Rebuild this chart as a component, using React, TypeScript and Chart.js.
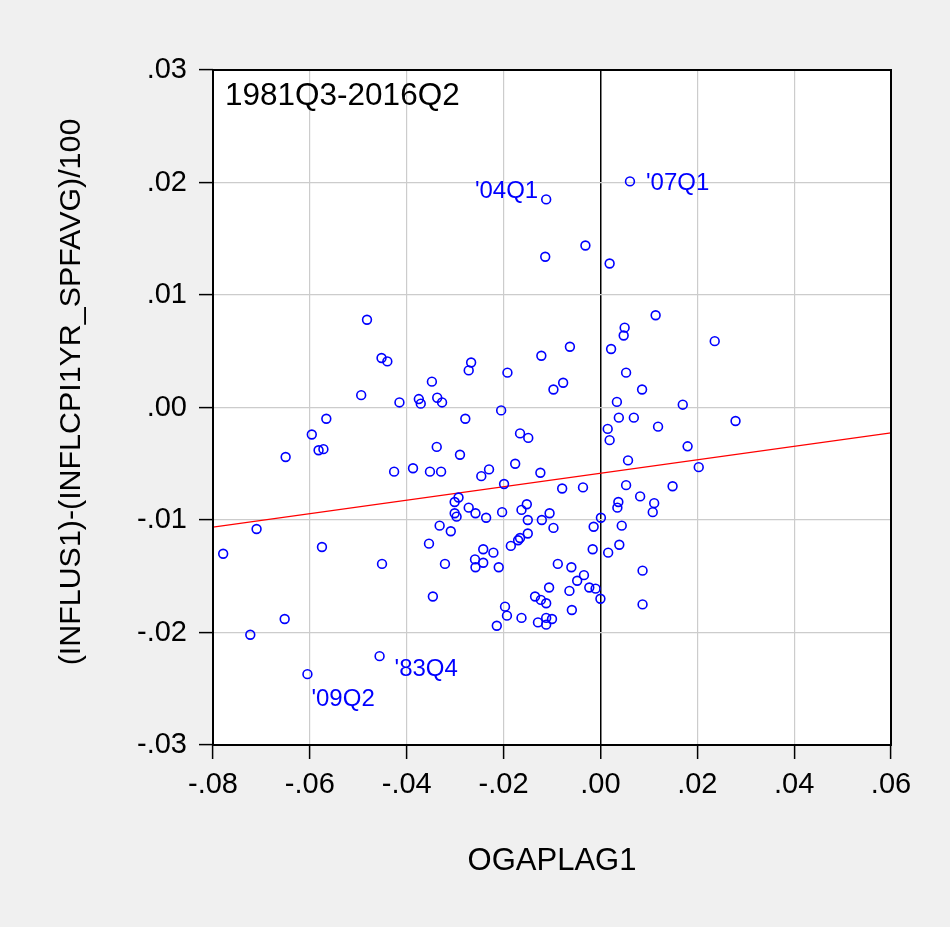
import React, { useEffect, useRef } from "react";
import { Chart, registerables } from "chart.js";

Chart.register(...registerables);

// OGAPLAG1 (x) values
const ogapLag1: number[] = [
  -0.0482, -0.0452, -0.044, -0.0348, -0.0494, -0.0415, -0.0375, -0.0371, -0.0337, -0.0327,
  0.0061, -0.0112, -0.0031, -0.0114, 0.0019, 0.0114, 0.005, 0.0048, 0.0022, -0.0063,
  -0.0122, -0.0267, -0.0272, -0.0192, 0.0053, -0.0077, -0.0097, 0.0086, 0.0034, 0.017,
  -0.0205, 0.0236, 0.0279, 0.018, 0.0203, -0.0279, -0.0166, -0.0149, -0.0338, -0.029,
  -0.0329, -0.023, -0.0246, -0.0176, -0.0124, -0.0199, -0.0079, -0.0036, -0.0293, -0.0301,
  -0.0272, -0.0301, -0.0297, -0.0258, -0.0236, -0.0203, -0.0152, -0.0163, -0.015, -0.0121,
  -0.0105, -0.0097, 0.0001, -0.0014, -0.0016, -0.015, -0.0166, -0.017, -0.0185, -0.0332,
  -0.0309, -0.0242, -0.0221, -0.0259, -0.0258, -0.0242, -0.021, -0.0321, -0.0088, -0.006,
  -0.0034, -0.0048, -0.0106, -0.0064, -0.0023, -0.001, 0.0, -0.0135, -0.0123, -0.0112,
  -0.0197, -0.0193, -0.0163, -0.0059, -0.0129, -0.0112, -0.01, -0.0112, -0.0214, 0.0038,
  0.0069, 0.0119, 0.0015, 0.0019, 0.0057, 0.0053, 0.0149, 0.0082, 0.0111, 0.0108,
  0.0037, 0.0035, 0.0044, 0.0039, 0.0016, 0.0087, 0.0087, -0.0566, -0.0596, -0.0582,
  -0.0572, -0.065, -0.0426, -0.0387, -0.0352, -0.071, -0.0779, -0.0575, -0.0451, -0.0354,
  -0.0346, -0.0652, -0.0723, -0.0456, -0.0605,
];

// (INFLUS1)-(INFLCPI1YR_SPFAVG)/100 (y) values
const inflGap: number[] = [
  0.0078, 0.0044, 0.0041, 0.0023, 0.0011, 0.00045, 0.00075, 0.00034, 0.00087, 0.00045,
  0.0201, 0.0185, 0.0144, 0.0134, 0.0128, 0.0082, 0.0071, 0.0064, 0.0052, 0.0054,
  0.0046, 0.004, 0.0033, 0.0031, 0.0031, 0.0022, 0.0016, 0.0016, 0.0005, 0.00025,
  -0.00026, 0.0059, -0.0012, -0.00345, -0.0053, -0.001, -0.0023, -0.0027, -0.0035, -0.0042,
  -0.0057, -0.0055, -0.0061, -0.005, -0.0058, -0.0068, -0.0072, -0.0071, -0.008, -0.0084,
  -0.0089, -0.0094, -0.0097, -0.0094, -0.0098, -0.0093, -0.0086, -0.0091, -0.01, -0.01,
  -0.0094, -0.0107, -0.0098, -0.0106, -0.0126, -0.0112, -0.0116, -0.0118, -0.0123, -0.0105,
  -0.011, -0.0126, -0.0129, -0.0135, -0.0142, -0.0138, -0.0142, -0.0139, -0.0139, -0.0142,
  -0.0149, -0.0154, -0.016, -0.0163, -0.016, -0.0161, -0.017, -0.0168, -0.0171, -0.0174,
  -0.0177, -0.0185, -0.0187, -0.018, -0.0191, -0.0187, -0.0188, -0.0193, -0.0194, -0.0009,
  -0.0009, -0.0017, -0.0019, -0.0029, -0.0047, -0.0069, -0.007, -0.0079, -0.0085, -0.0093,
  -0.0084, -0.0089, -0.0105, -0.0122, -0.0129, -0.0145, -0.0175, -0.001, -0.0024, -0.0038,
  -0.0037, -0.0044, -0.0057, -0.0054, -0.0057, -0.0108, -0.013, -0.0124, -0.0139, -0.0121,
  -0.0168, -0.0188, -0.0202, -0.0221, -0.0237,
];

// Fitted regression line end points
const fitX: number[] = [-0.08, 0.06];
const fitY: number[] = [-0.01063, -0.00226];

const xTicks: number[] = [-0.08, -0.06, -0.04, -0.02, 0.0, 0.02, 0.04, 0.06];
const yTicks: number[] = [-0.03, -0.02, -0.01, 0.0, 0.01, 0.02, 0.03];

const sampleText = "1981Q3-2016Q2";
const xTitle = "OGAPLAG1";
const yTitle = "(INFLUS1)-(INFLCPI1YR_SPFAVG)/100";

const pointLabels: string[] = ["'04Q1", "'07Q1", "'83Q4", "'09Q2"];
const pointLabelIdx: number[] = [11, 10, 133, 134];

const FONT = "'Liberation Sans', Arial, Helvetica, sans-serif";

const fmt = (v: number) => {
  if (Math.abs(v) < 1e-9) return ".00";
  return v.toFixed(2).replace("0.", ".");
};

export default function App() {
  const ref = useRef<HTMLCanvasElement>(null);

  useEffect(() => {
    if (!ref.current) return;

    // label placement (pixel offsets from the labelled point): [dx, dy, align]
    const labelPlacement: [number, number, CanvasTextAlign][] = [
      [-8, -8, "right"],
      [16, 2, "left"],
      [15, 13, "left"],
      [4, 25, "left"],
    ];

    const decor = {
      id: "decor",
      beforeDraw(chart: any) {
        const { ctx, chartArea: a } = chart;
        ctx.save();
        ctx.fillStyle = "#f0f0f0";
        ctx.fillRect(0, 0, chart.width, chart.height);
        ctx.fillStyle = "#ffffff";
        ctx.fillRect(a.left, a.top, a.right - a.left, a.bottom - a.top);
        ctx.restore();
      },
      afterDraw(chart: any) {
        const { ctx, chartArea: a, scales } = chart;
        ctx.save();
        // frame
        ctx.strokeStyle = "#000000";
        ctx.lineWidth = 2;
        ctx.strokeRect(a.left, a.top, a.right - a.left, a.bottom - a.top);

        // sample text
        ctx.fillStyle = "#000000";
        ctx.font = `31.5px ${FONT}`;
        ctx.textAlign = "left";
        ctx.textBaseline = "middle";
        ctx.fillText(sampleText, a.left + 12, a.top + 26);

        // point labels
        ctx.fillStyle = "#0000ff";
        ctx.font = `24px ${FONT}`;
        pointLabels.forEach((t, i) => {
          const idx = pointLabelIdx[i];
          const px = scales.x.getPixelForValue(ogapLag1[idx]);
          const py = scales.y.getPixelForValue(inflGap[idx]);
          const [dx, dy, al] = labelPlacement[i];
          ctx.textAlign = al;
          ctx.fillText(t, px + dx, py + dy);
        });

        // y axis title
        ctx.fillStyle = "#000000";
        ctx.font = `30.4px ${FONT}`;
        ctx.translate(72, 392);
        ctx.rotate(-Math.PI / 2);
        ctx.textAlign = "center";
        ctx.textBaseline = "middle";
        ctx.fillText(yTitle, 0, 0);
        ctx.restore();
      },
    };

    const chart = new Chart(ref.current, {
      type: "scatter",
      data: {
        datasets: [
          {
            label: "points",
            data: ogapLag1.map((x, i) => ({ x, y: inflGap[i] })),
            pointStyle: "circle",
            pointRadius: 4.4,
            pointBorderWidth: 1.6,
            borderColor: "#0000ff",
            backgroundColor: "rgba(0,0,0,0)",
            order: 1,
          },
          {
            type: "line",
            label: "fit",
            data: fitX.map((x, i) => ({ x, y: fitY[i] })),
            borderColor: "#ff0000",
            borderWidth: 1.3,
            pointRadius: 0,
            showLine: true,
            fill: false,
            order: 2,
          } as any,
        ],
      },
      options: {
        responsive: false,
        animation: false,
        devicePixelRatio: 1,
        layout: { padding: { top: 70, right: 59, left: 0, bottom: 0 } },
        plugins: {
          legend: { display: false },
          tooltip: { enabled: false },
        },
        scales: {
          x: {
            type: "linear",
            position: "bottom",
            min: -0.08,
            max: 0.06,
            afterBuildTicks: (s: any) => {
              s.ticks = xTicks.map((value) => ({ value }));
            },
            afterFit: (s: any) => {
              s.height = 182;
            },
            border: { display: false },
            grid: {
              color: (c: any) => (c.tick && Math.abs(c.tick.value) < 1e-9 ? "#000000" : "#cccccc"),
              lineWidth: (c: any) => (c.tick && Math.abs(c.tick.value) < 1e-9 ? 1.5 : 1.2),
              drawTicks: true,
              tickLength: 14,
              tickColor: "#000000",
              tickWidth: 1.5,
            },
            ticks: {
              padding: 9,
              maxRotation: 0,
              autoSkip: false,
              color: "#000000",
              font: { size: 29, family: FONT },
              callback: (v: any) => fmt(Number(v)),
            },
            title: {
              display: true,
              text: xTitle,
              color: "#000000",
              font: { size: 31, family: FONT },
              padding: { top: 0, bottom: 47 },
            },
          },
          y: {
            type: "linear",
            position: "left",
            min: -0.03,
            max: 0.03,
            afterBuildTicks: (s: any) => {
              s.ticks = yTicks.map((value) => ({ value }));
            },
            afterFit: (s: any) => {
              s.width = 213;
            },
            border: { display: false },
            grid: {
              color: "#cccccc",
              lineWidth: 1.2,
              drawTicks: true,
              tickLength: 14,
              tickColor: "#000000",
              tickWidth: 1.5,
            },
            ticks: {
              padding: 12,
              autoSkip: false,
              color: "#000000",
              font: { size: 29, family: FONT },
              callback: (v: any) => fmt(Number(v)),
            },
          },
        },
      },
      plugins: [decor],
    } as any);

    return () => chart.destroy();
  }, []);

  return (
    <div style={{ position: "absolute", left: 0, top: 0, width: 950, height: 927, background: "#f0f0f0" }}>
      <canvas ref={ref} width={950} height={927} style={{ display: "block", width: 950, height: 927 }} />
    </div>
  );
}
